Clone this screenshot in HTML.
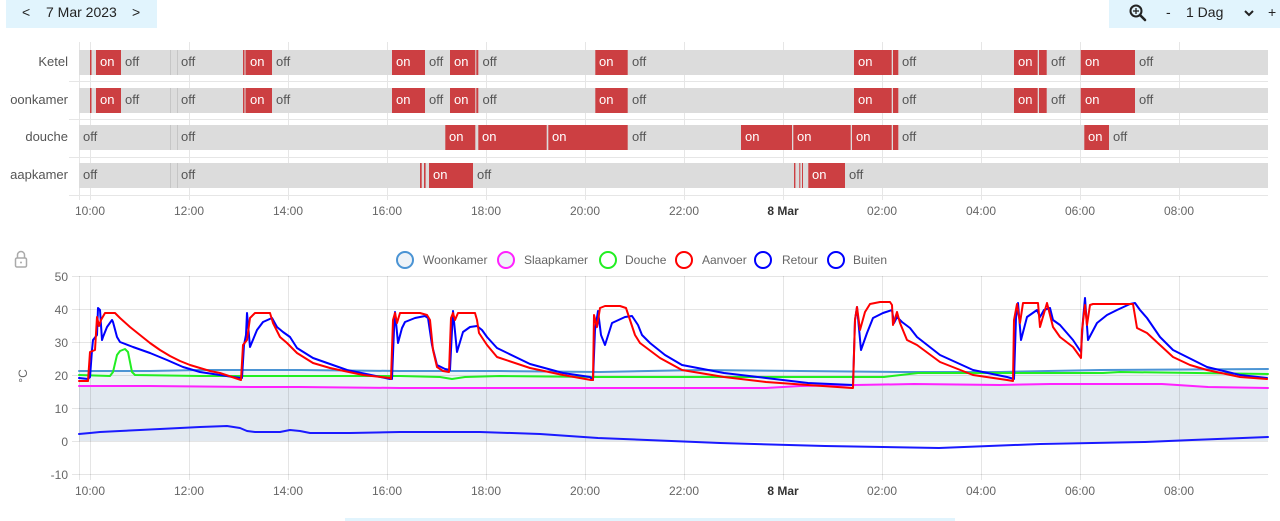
<!DOCTYPE html>
<html><head><meta charset="utf-8"><style>
html,body{margin:0;padding:0;background:#fff;}
svg{display:block;font-family:"Liberation Sans",Arial,sans-serif;}
</style></head><body>
<svg width="1280" height="521" viewBox="0 0 1280 521" xmlns="http://www.w3.org/2000/svg">
<defs><clipPath id="lc"><rect x="10" y="40" width="70" height="160"/></clipPath></defs>
<!-- header -->
<rect x="6" y="0" width="151" height="28" fill="#e1f4fd"/>
<text x="22" y="17" font-size="14" fill="#222">&lt;</text>
<text x="46" y="17" font-size="14" fill="#222">7 Mar 2023</text>
<text x="132" y="17" font-size="14" fill="#222">&gt;</text>
<rect x="1109" y="0" width="171" height="28" fill="#e1f4fd"/>
<circle cx="1136" cy="11" r="5.5" fill="none" stroke="#222" stroke-width="2"/>
<line x1="1140" y1="15" x2="1145" y2="20" stroke="#222" stroke-width="2.5" stroke-linecap="round"/>
<line x1="1133" y1="11" x2="1139" y2="11" stroke="#222" stroke-width="1.3"/>
<line x1="1136" y1="8" x2="1136" y2="14" stroke="#222" stroke-width="1.3"/>
<text x="1166" y="17" font-size="14" fill="#222">-</text>
<text x="1186" y="17" font-size="14" fill="#222">1 Dag</text>
<polyline points="1245,11 1249,15 1253,11" fill="none" stroke="#222" stroke-width="2"/>
<text x="1268" y="17" font-size="14" fill="#222">+</text>

<!-- timeline grid -->
<g stroke="#e6e6e6" stroke-width="1">
<line x1="79.5" y1="42" x2="79.5" y2="200"/>
<line x1="90.5" y1="42" x2="90.5" y2="200"/><line x1="189.5" y1="42" x2="189.5" y2="200"/><line x1="288.5" y1="42" x2="288.5" y2="200"/><line x1="387.5" y1="42" x2="387.5" y2="200"/><line x1="486.5" y1="42" x2="486.5" y2="200"/><line x1="585.5" y1="42" x2="585.5" y2="200"/><line x1="684.5" y1="42" x2="684.5" y2="200"/><line x1="783.5" y1="42" x2="783.5" y2="200"/><line x1="882.5" y1="42" x2="882.5" y2="200"/><line x1="981.5" y1="42" x2="981.5" y2="200"/><line x1="1080.5" y1="42" x2="1080.5" y2="200"/><line x1="1179.5" y1="42" x2="1179.5" y2="200"/>
<line x1="69" y1="81.5" x2="1268" y2="81.5"/><line x1="69" y1="119.5" x2="1268" y2="119.5"/><line x1="69" y1="157.5" x2="1268" y2="157.5"/><line x1="69" y1="195.5" x2="1268" y2="195.5"/>
</g>
<!-- row labels -->
<g font-size="13" fill="#555" text-anchor="end" clip-path="url(#lc)">
<text x="68" y="66">Ketel</text>
<text x="68" y="104">Woonkamer</text>
<text x="68" y="141">douche</text>
<text x="68" y="179">Slaapkamer</text>
</g>
<!-- bars background -->
<g fill="#dcdcdc">
<rect x="79" y="50" width="1189" height="25"/>
<rect x="79" y="88" width="1189" height="25"/>
<rect x="79" y="125" width="1189" height="25"/>
<rect x="79" y="163" width="1189" height="25"/>
</g>
<g fill="#c6c6c6">
<rect x="170" y="50" width="1" height="25"/><rect x="177" y="50" width="1" height="25"/>
<rect x="170" y="88" width="1" height="25"/><rect x="177" y="88" width="1" height="25"/>
<rect x="170" y="125" width="1" height="25"/><rect x="177" y="125" width="1" height="25"/>
<rect x="170" y="163" width="1" height="25"/><rect x="177" y="163" width="1" height="25"/>
</g>
<!-- Ketel & Woonkamer on segments -->
<g fill="#cc3f42">
<g>
<rect x="90" y="50" width="1.5" height="25"/>
<rect x="96" y="50" width="25" height="25"/>
<rect x="243" y="50" width="1.5" height="25"/>
<rect x="245.5" y="50" width="26.5" height="25"/>
<rect x="392" y="50" width="33" height="25"/>
<rect x="450" y="50" width="25.3" height="25"/>
<rect x="476.3" y="50" width="2" height="25"/>
<rect x="595.3" y="50" width="32.4" height="25"/>
<rect x="854" y="50" width="37.7" height="25"/>
<rect x="893" y="50" width="5.3" height="25"/>
<rect x="1014" y="50" width="23.7" height="25"/>
<rect x="1039" y="50" width="7.7" height="25"/>
<rect x="1080.7" y="50" width="54.3" height="25"/>
</g>
<g transform="translate(0,38)">
<rect x="90" y="50" width="1.5" height="25"/>
<rect x="96" y="50" width="25" height="25"/>
<rect x="243" y="50" width="1.5" height="25"/>
<rect x="245.5" y="50" width="26.5" height="25"/>
<rect x="392" y="50" width="33" height="25"/>
<rect x="450" y="50" width="25.3" height="25"/>
<rect x="476.3" y="50" width="2" height="25"/>
<rect x="595.3" y="50" width="32.4" height="25"/>
<rect x="854" y="50" width="37.7" height="25"/>
<rect x="893" y="50" width="5.3" height="25"/>
<rect x="1014" y="50" width="23.7" height="25"/>
<rect x="1039" y="50" width="7.7" height="25"/>
<rect x="1080.7" y="50" width="54.3" height="25"/>
</g>
<!-- douche -->
<rect x="445.3" y="125" width="30" height="25"/>
<rect x="478.3" y="125" width="68.4" height="25"/>
<rect x="548.3" y="125" width="79.4" height="25"/>
<rect x="741" y="125" width="51" height="25"/>
<rect x="793.3" y="125" width="57.4" height="25"/>
<rect x="852" y="125" width="39.7" height="25"/>
<rect x="893" y="125" width="5.3" height="25"/>
<rect x="1084.3" y="125" width="24.7" height="25"/>
<!-- slaapkamer -->
<rect x="420" y="163" width="1.7" height="25"/>
<rect x="424" y="163" width="1.6" height="25"/>
<rect x="429" y="163" width="44" height="25"/>
<rect x="794" y="163" width="1.4" height="25"/>
<rect x="799.3" y="163" width="1" height="25"/>
<rect x="802" y="163" width="1" height="25"/>
<rect x="808.3" y="163" width="36.7" height="25"/>
</g>
<!-- on labels -->
<g font-size="13" fill="#fff">
<text x="100" y="66">on</text><text x="250" y="66">on</text><text x="396" y="66">on</text><text x="454" y="66">on</text><text x="599" y="66">on</text><text x="858" y="66">on</text><text x="1018" y="66">on</text><text x="1085" y="66">on</text>
<text x="100" y="104">on</text><text x="250" y="104">on</text><text x="396" y="104">on</text><text x="454" y="104">on</text><text x="599" y="104">on</text><text x="858" y="104">on</text><text x="1018" y="104">on</text><text x="1085" y="104">on</text>
<text x="449" y="141">on</text><text x="482" y="141">on</text><text x="552" y="141">on</text><text x="745" y="141">on</text><text x="797" y="141">on</text><text x="856" y="141">on</text><text x="1088" y="141">on</text>
<text x="433" y="179">on</text><text x="812" y="179">on</text>
</g>
<!-- off labels -->
<g font-size="13" fill="#555">
<text x="125" y="66">off</text><text x="181" y="66">off</text><text x="276" y="66">off</text><text x="429" y="66">off</text><text x="482.5" y="66">off</text><text x="632" y="66">off</text><text x="902" y="66">off</text><text x="1051" y="66">off</text><text x="1139" y="66">off</text>
<text x="125" y="104">off</text><text x="181" y="104">off</text><text x="276" y="104">off</text><text x="429" y="104">off</text><text x="482.5" y="104">off</text><text x="632" y="104">off</text><text x="902" y="104">off</text><text x="1051" y="104">off</text><text x="1139" y="104">off</text>
<text x="83" y="141">off</text><text x="181" y="141">off</text><text x="632" y="141">off</text><text x="902" y="141">off</text><text x="1113" y="141">off</text>
<text x="83" y="179">off</text><text x="181" y="179">off</text><text x="477" y="179">off</text><text x="849" y="179">off</text>
</g>
<!-- timeline ticks -->
<g font-size="12" fill="#666" text-anchor="middle">
<text x="90" y="215">10:00</text><text x="189" y="215">12:00</text><text x="288" y="215">14:00</text><text x="387" y="215">16:00</text><text x="486" y="215">18:00</text><text x="585" y="215">20:00</text><text x="684" y="215">22:00</text><text x="783" y="215" font-weight="bold" fill="#333">8 Mar</text><text x="882" y="215">02:00</text><text x="981" y="215">04:00</text><text x="1080" y="215">06:00</text><text x="1179" y="215">08:00</text>
</g>

<!-- lock icon -->
<path d="M17.5 258 v-3 a3.5 3.5 0 0 1 7 0 v3" fill="none" stroke="#aaa" stroke-width="1.5"/>
<rect x="15.5" y="258" width="11" height="9" rx="1.5" fill="none" stroke="#aaa" stroke-width="1.5"/>
<circle cx="21" cy="262.5" r="1" fill="#aaa"/>

<!-- legend -->
<g stroke-width="2">
<circle cx="405" cy="260" r="8" fill="#eef3f8" stroke="#4b94d4"/>
<circle cx="506" cy="260" r="8" fill="#eef3f8" stroke="#ff22ff"/>
<circle cx="608" cy="260" r="8" fill="#fff" stroke="#22ee22"/>
<circle cx="684" cy="260" r="8" fill="#fff" stroke="#ff0000"/>
<circle cx="763" cy="260" r="8" fill="#fff" stroke="#0000ff"/>
<circle cx="836" cy="260" r="8" fill="#fff" stroke="#0000ff"/>
</g>
<g font-size="12" fill="#666">
<text x="423" y="264">Woonkamer</text><text x="524" y="264">Slaapkamer</text><text x="625" y="264">Douche</text><text x="702" y="264">Aanvoer</text><text x="782" y="264">Retour</text><text x="853" y="264">Buiten</text>
</g>

<!-- fills -->
<polygon fill="#eef3f8" points="79,371 150,371 200,370 300,370 400,371 500,371 600,372 700,370 800,371 900,372 1000,372 1100,370 1268,369 1268,441 79,441"/>
<polygon fill="#e2e9f0" points="79,386 150,386 250,387 300,387 400,388 500,388 600,388 766,388 800,386 914,384 1000,385 1050,384 1162,384 1208,387 1268,388 1268,441 79,441"/>

<!-- chart grid -->
<g stroke="rgba(0,0,0,0.1)" stroke-width="1">
<line x1="72" y1="276.5" x2="1268" y2="276.5"/><line x1="72" y1="309.5" x2="1268" y2="309.5"/><line x1="72" y1="342.5" x2="1268" y2="342.5"/><line x1="72" y1="375.5" x2="1268" y2="375.5"/><line x1="72" y1="408.5" x2="1268" y2="408.5"/><line x1="72" y1="441.5" x2="1268" y2="441.5"/><line x1="72" y1="474.5" x2="1268" y2="474.5"/>
<line x1="79.5" y1="276" x2="79.5" y2="480"/>
<line x1="90.5" y1="276" x2="90.5" y2="480"/><line x1="189.5" y1="276" x2="189.5" y2="480"/><line x1="288.5" y1="276" x2="288.5" y2="480"/><line x1="387.5" y1="276" x2="387.5" y2="480"/><line x1="486.5" y1="276" x2="486.5" y2="480"/><line x1="585.5" y1="276" x2="585.5" y2="480"/><line x1="684.5" y1="276" x2="684.5" y2="480"/><line x1="783.5" y1="276" x2="783.5" y2="480"/><line x1="882.5" y1="276" x2="882.5" y2="480"/><line x1="981.5" y1="276" x2="981.5" y2="480"/><line x1="1080.5" y1="276" x2="1080.5" y2="480"/><line x1="1179.5" y1="276" x2="1179.5" y2="480"/>
</g>
<g font-size="12" fill="#666" text-anchor="end">
<text x="68" y="281">50</text><text x="68" y="314">40</text><text x="68" y="347">30</text><text x="68" y="380">20</text><text x="68" y="413">10</text><text x="68" y="446">0</text><text x="68" y="479">-10</text>
</g>
<text x="0" y="0" font-size="12" fill="#666" text-anchor="middle" transform="translate(27,376) rotate(-90)">°C</text>
<g font-size="12" fill="#666" text-anchor="middle">
<text x="90" y="495">10:00</text><text x="189" y="495">12:00</text><text x="288" y="495">14:00</text><text x="387" y="495">16:00</text><text x="486" y="495">18:00</text><text x="585" y="495">20:00</text><text x="684" y="495">22:00</text><text x="783" y="495" font-weight="bold" fill="#333">8 Mar</text><text x="882" y="495">02:00</text><text x="981" y="495">04:00</text><text x="1080" y="495">06:00</text><text x="1179" y="495">08:00</text>
</g>

<!-- series -->
<g fill="none" stroke-width="2" stroke-linejoin="round" stroke-linecap="round">
<polyline stroke="#4b94d4" points="79,371 150,371 200,370 300,370 400,371 500,371 600,372 700,370 800,371 900,372 1000,372 1100,370 1268,369"/>
<polyline stroke="#ff22ff" points="79,386 150,386 250,387 300,387 400,388 500,388 600,388 766,388 800,386 914,384 1000,385 1050,384 1162,384 1208,387 1268,388"/>
<polyline stroke="#22ee22" points="79,375 110,376 113,372 117,355 120,351 125,349 128,352 132,372 135,375 200,376 300,376 400,376 440,377 452,379 465,377 500,376 598,377 884,377 918,373 1103,373 1120,372 1268,374"/>
<polyline stroke="#1a1aff" points="79,434 90,433 100,432 120,431 140,430 160,429 180,428 200,427 227,426 240,428 247,431 255,432 280,432 290,430 300,431 310,433 350,433 400,432 480,432 540,434 598,438 720,443 825,446 939,448 1040,444 1145,442 1192,440 1268,437"/>
<polyline stroke="#0000ff" points="79,378 88,379 90,377 92,350 93,340 97,335 98,308 100,310 102,340 103,337 107,327 112,320 113,322 117,337 120,342 133,347 150,353 167,360 183,367 200,372 233,377 241,378 242,378 244,345 246,335 247,313 250,347 257,330 263,322 272,318 277,327 283,332 290,337 297,348 313,358 347,370 390,379 392,379 394,330 395,312 398,343 402,328 405,322 415,318 425,316 428,318 432,345 437,365 445,369 450,370 451,350 453,311 457,352 463,332 470,327 477,326 482,330 487,337 497,348 530,364 563,373 590,377 593,380 595,330 598,311 601,335 605,345 612,323 625,317 632,316 638,325 642,335 650,343 665,355 682,365 724,373 766,378 808,383 853,385 855,320 857,307 861,350 867,333 873,318 883,313 892,310 894,323 897,317 902,322 910,328 917,337 940,355 973,370 1007,377 1014,379 1016,318 1018,303 1021,340 1027,317 1037,310 1040,317 1044,310 1050,308 1053,320 1060,325 1073,340 1081,352 1083,320 1085,298 1088,340 1097,323 1107,315 1117,310 1130,304 1135,303 1140,310 1147,318 1160,337 1173,350 1207,367 1240,375 1267,378"/>
<polyline stroke="#ff0000" points="79,381 88,381 90,352 95,350 97,317 99,326 101,320 105,313 115,313 120,318 130,327 140,335 150,343 160,350 170,356 180,361 190,365 200,368 210,371 220,373 241,380 243,345 247,340 250,318 255,313 270,313 273,323 280,337 287,343 297,353 313,363 330,368 363,375 390,378 391,379 393,320 395,313 397,323 400,313 420,313 427,315 430,320 433,350 437,367 443,371 449,372 451,318 453,313 455,320 458,313 475,313 477,320 479,333 487,345 497,357 530,368 563,375 591,380 593,380 594,315 597,327 600,308 605,306 620,306 626,308 630,320 635,335 640,343 660,358 682,370 724,377 766,382 808,385 852,388 853,388 855,320 857,307 860,330 865,312 870,304 880,302 890,302 892,305 893,325 897,312 900,323 907,340 917,345 940,362 973,375 1007,380 1013,381 1014,320 1017,304 1020,323 1023,303 1038,303 1040,327 1047,303 1053,327 1060,337 1073,347 1081,358 1082,330 1085,305 1087,325 1090,305 1093,304 1133,304 1137,328 1147,333 1160,345 1173,357 1190,365 1207,370 1240,377 1267,379"/>
</g>

<rect x="345" y="518" width="610" height="3" fill="#e1f4fd"/>
</svg>
</body></html>
